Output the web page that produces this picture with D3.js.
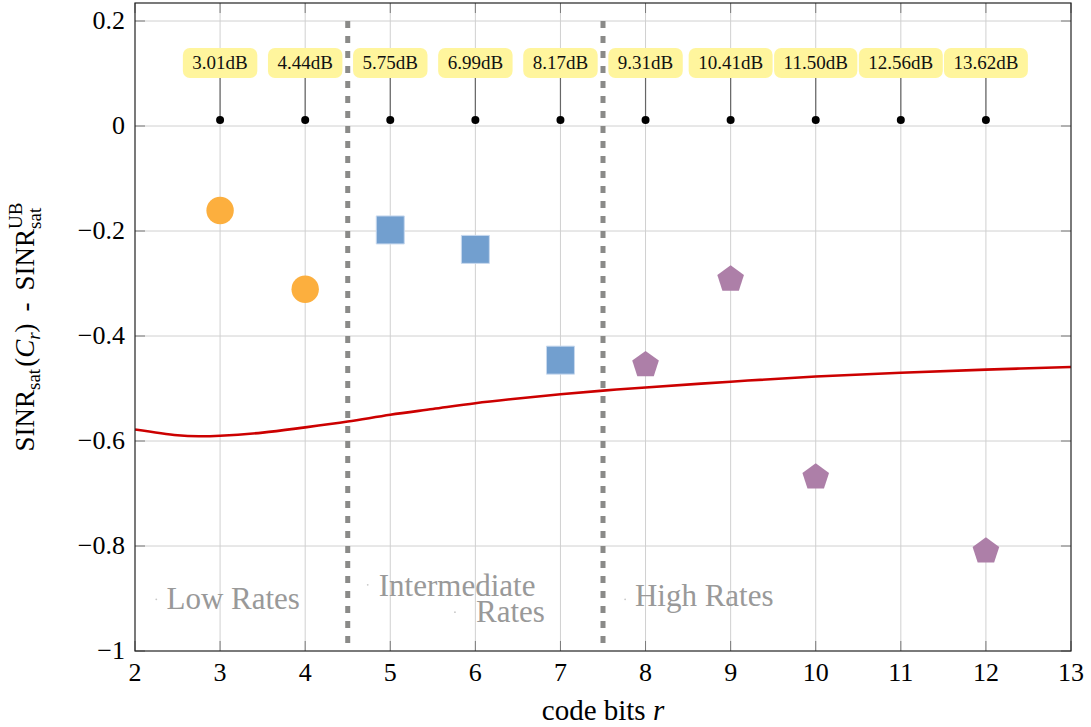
<!DOCTYPE html>
<html>
<head>
<meta charset="utf-8">
<script src="https://cdn.jsdelivr.net/npm/d3@7"></script>
<style>
  body { margin: 0; background: #fff; }
  svg { display: block; }
  text { font-family: "Liberation Serif", "DejaVu Serif", serif; }
</style>
</head>
<body>
<svg id="chart"></svg>
<script>
// code rates and their gain labels
const rates = [3, 4, 5, 6, 7, 8, 9, 10, 11, 12];
const gainLabels = ["3.01dB", "4.44dB", "5.75dB", "6.99dB", "8.17dB",
  "9.31dB", "10.41dB", "11.50dB", "12.56dB", "13.62dB"];
const stemBase = 0.0115;
const labelLevel = 0.12;

// measured points per rate class
const lowX = [3, 4];
const lowY = [-0.161, -0.311];
const midX = [5, 6, 7];
const midY = [-0.198, -0.235, -0.446];
const highX = [8, 9, 10, 12];
const highY = [-0.455, -0.292, -0.669, -0.810];

// bound curve
const boundX = [2, 2.5, 2.75, 3, 3.5, 4, 4.5, 5, 5.5, 6, 6.5, 7, 7.5, 8, 9, 10, 11, 12, 13];
const boundY = [-0.578, -0.589, -0.591, -0.590, -0.584, -0.574, -0.563, -0.550, -0.539,
  -0.528, -0.519, -0.511, -0.504, -0.498, -0.487, -0.477, -0.470, -0.464, -0.459];

// region separators and names
const separators = [4.5, 7.5];
const regionNames = ["Low Rates", "Intermediate", "Rates", "High Rates"];
const regionX = [2.37, 4.865, 6.817, 7.875];
const regionY = [-0.9206, -0.8952, -0.944, -0.9137];
const regionAnchor = ["start", "start", "end", "start"];
const regionDotX = [2.25, 4.735, 5.76, 7.76];
const regionDotY = [-0.9015, -0.874, -0.926, -0.9015];

// ticks
const xTicks = [2, 3, 4, 5, 6, 7, 8, 9, 10, 11, 12, 13];
const yTicks = [-1, -0.8, -0.6, -0.4, -0.2, 0, 0.2];

const width = 1091;
const height = 727;
const marginTop = 3;
const marginRight = 20;
const marginBottom = 76;
const marginLeft = 135;

const svg = d3.select('#chart')
  .attr('width', width)
  .attr('height', height)
  .attr('viewBox', [0, 0, width, height]);

const x = d3.scaleLinear().domain([2, 13]).range([marginLeft, width - marginRight]);
const y = d3.scaleLinear().domain([-1, 0.2343]).range([height - marginBottom, marginTop]);

const x0 = x.range()[0], x1 = x.range()[1];
const yB = y.range()[0], yT = y.range()[1];

svg.append('defs').append('clipPath').attr('id', 'plot')
  .append('rect').attr('x', x0).attr('y', yT).attr('width', x1 - x0).attr('height', yB - yT);

// grid
const grid = svg.append('g').attr('stroke', '#d0d0d0').attr('stroke-width', 1);
grid.selectAll('.gx').data(xTicks.slice(1, -1)).join('line')
  .attr('x1', d => x(d)).attr('x2', d => x(d)).attr('y1', yT).attr('y2', yB);
grid.selectAll('.gy').data(yTicks.slice(1)).join('line')
  .attr('x1', x0).attr('x2', x1).attr('y1', d => y(d)).attr('y2', d => y(d));

// inner ticks
const tk = 10;
const ticks = svg.append('g').attr('stroke', '#7a7a7a').attr('stroke-width', 1);
ticks.selectAll('.tb').data(xTicks).join('line')
  .attr('x1', d => x(d)).attr('x2', d => x(d)).attr('y1', yB).attr('y2', yB - tk);
ticks.selectAll('.tt').data(xTicks).join('line')
  .attr('x1', d => x(d)).attr('x2', d => x(d)).attr('y1', yT).attr('y2', yT + tk);
ticks.selectAll('.tl').data(yTicks).join('line')
  .attr('x1', x0).attr('x2', x0 + tk).attr('y1', d => y(d)).attr('y2', d => y(d));
ticks.selectAll('.tr').data(yTicks).join('line')
  .attr('x1', x1).attr('x2', x1 - tk).attr('y1', d => y(d)).attr('y2', d => y(d));

// separators
svg.append('g').selectAll('line').data(separators).join('line')
  .attr('x1', d => x(d)).attr('x2', d => x(d))
  .attr('y1', y(0.2)).attr('y2', yB)
  .attr('stroke', '#8a8a88').attr('stroke-width', 5)
  .attr('stroke-dasharray', '7 8');

// bound curve
const line = d3.line()
  .x((d, i) => x(boundX[i]))
  .y(d => y(d))
  .curve(d3.curveCatmullRom);
svg.append('path')
  .attr('clip-path', 'url(#plot)')
  .attr('d', line(boundY))
  .attr('fill', 'none')
  .attr('stroke', '#cc0000')
  .attr('stroke-width', 2.6);

// gain stems and labels
const stems = svg.append('g');
stems.selectAll('line').data(rates).join('line')
  .attr('x1', d => x(d)).attr('x2', d => x(d))
  .attr('y1', y(stemBase)).attr('y2', y(labelLevel))
  .attr('stroke', '#666').attr('stroke-width', 1.2);
stems.selectAll('circle').data(rates).join('circle')
  .attr('cx', d => x(d)).attr('cy', y(stemBase)).attr('r', 4)
  .attr('fill', '#000');

const tags = svg.append('g').selectAll('g').data(rates).join('g')
  .attr('transform', d => `translate(${x(d)},${y(labelLevel)})`);
tags.append('rect').attr('fill', '#fff59d').attr('rx', 7);
const tagTexts = tags.append('text')
  .attr('text-anchor', 'middle')
  .attr('dy', '0.33em')
  .attr('font-size', 19)
  .attr('fill', '#111')
  .text((d, i) => gainLabels[i]);
tagTexts.each(function () {
  const w = this.getComputedTextLength();
  d3.select(this.parentNode).select('rect')
    .attr('x', -w / 2 - 9.5).attr('y', -15)
    .attr('width', w + 19).attr('height', 30);
});

// markers
svg.append('g').selectAll('path').data(lowX).join('path')
  .attr('transform', (d, i) => `translate(${x(d)},${y(lowY[i])})`)
  .attr('d', d3.symbol(d3.symbolCircle, Math.PI * 13.7 * 13.7))
  .attr('fill', '#fcaf3e');

svg.append('g').selectAll('path').data(midX).join('path')
  .attr('transform', (d, i) => `translate(${x(d)},${y(midY[i])})`)
  .attr('d', d3.symbol(d3.symbolSquare, 28 * 28))
  .attr('fill', '#729fcf')
  .attr('stroke', '#c8d9ee').attr('stroke-width', 1);

const pentagon = (r) => d3.range(5).map(k => {
  const a = -Math.PI / 2 + k * 2 * Math.PI / 5;
  return [r * Math.cos(a), r * Math.sin(a)];
});
svg.append('g').selectAll('path').data(highX).join('path')
  .attr('transform', (d, i) => `translate(${x(d)},${y(highY[i])})`)
  .attr('d', 'M' + pentagon(14).join('L') + 'Z')
  .attr('fill', '#ad7fa8');

// region labels
svg.append('g').selectAll('circle').data(regionDotX).join('circle')
  .attr('cx', d => x(d)).attr('cy', (d, i) => y(regionDotY[i])).attr('r', 0.9)
  .attr('fill', '#c8c8c8');
svg.append('g').selectAll('text').data(regionNames).join('text')
  .attr('x', (d, i) => x(regionX[i]))
  .attr('y', (d, i) => y(regionY[i]))
  .attr('text-anchor', (d, i) => regionAnchor[i])
  .attr('font-size', 31)
  .attr('fill', '#999')
  .text(d => d);

// frame
svg.append('rect')
  .attr('x', x0).attr('y', yT).attr('width', x1 - x0).attr('height', yB - yT)
  .attr('fill', 'none').attr('stroke', '#222').attr('stroke-width', 1.2);

// tick labels
svg.append('g').selectAll('text').data(xTicks).join('text')
  .attr('x', d => x(d)).attr('y', yB + 30)
  .attr('text-anchor', 'middle').attr('font-size', 26)
  .text(d => d);
svg.append('g').selectAll('text').data(yTicks).join('text')
  .attr('x', x0 - 10).attr('y', d => y(d)).attr('dy', '0.32em')
  .attr('text-anchor', 'end').attr('font-size', 26)
  .text(d => d3.format('~g')(d).replace('-', '\u2212'));

// x label
const xl = svg.append('text')
  .attr('x', (x0 + x1) / 2).attr('y', 720)
  .attr('text-anchor', 'middle').attr('font-size', 29);
xl.append('tspan').text('code bits ');
xl.append('tspan').attr('font-style', 'italic').text('r');

// y label built from pieces
const parts = [
  { t: 'SINR', s: 27, dy: 0 },
  { t: 'sat', s: 19, dy: 6 },
  { gap: 2 },
  { t: '(', s: 27, dy: 0 },
  { t: 'C', s: 27, dy: 0, it: true },
  { t: 'r', s: 19, dy: 6, it: true },
  { t: ')', s: 27, dy: 0 },
  { gap: 12 },
  { t: '-', s: 27, dy: 0 },
  { gap: 12 },
  { t: 'SINR', s: 27, dy: 0 },
  { stack: [{ t: 'UB', s: 19, dy: -12 }, { t: 'sat', s: 19, dy: 7 }] }
];
const yl = svg.append('g');
let cx = 0;
const put = (p, px) => {
  const el = yl.append('text').attr('x', px).attr('y', p.dy)
    .attr('font-size', p.s).attr('font-style', p.it ? 'italic' : null).text(p.t);
  return el.node().getComputedTextLength();
};
parts.forEach(p => {
  if (p.gap) { cx += p.gap; return; }
  if (p.stack) { cx += d3.max(p.stack.map(q => put(q, cx))); return; }
  cx += put(p, cx);
});
yl.attr('transform', `translate(34,${(yT + yB) / 2 + cx / 2}) rotate(-90)`);
</script>
</body>
</html>
